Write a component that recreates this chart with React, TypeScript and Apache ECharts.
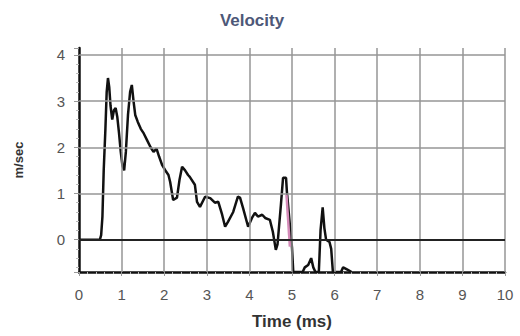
import React, { useEffect, useRef } from "react";
import * as echarts from "echarts";

const TITLE = "Velocity";
const X_NAME = "Time (ms)";
const Y_NAME = "m/sec";

const timeMs: number[] = [
  0, 0.49, 0.52, 0.55, 0.58, 0.62, 0.65, 0.68, 0.71, 0.74, 0.78, 0.82, 0.86, 0.9, 0.94, 0.98,
  1.02, 1.06, 1.1, 1.15, 1.2, 1.24, 1.28, 1.32, 1.38, 1.45, 1.52, 1.6, 1.68, 1.75, 1.82, 1.88,
  1.95, 2.02, 2.1, 2.14, 2.21, 2.3, 2.36, 2.42, 2.49, 2.56, 2.6, 2.72, 2.77, 2.84, 2.96, 3.08,
  3.19, 3.27, 3.36, 3.43, 3.5, 3.62, 3.73, 3.78, 3.85, 3.97, 4.06, 4.13, 4.2, 4.3, 4.37, 4.48,
  4.55, 4.62, 4.66, 4.74, 4.79, 4.86, 4.88, 4.95, 5.0, 5.03, 5.25, 5.3, 5.38, 5.45, 5.5, 5.55,
  5.63, 5.67, 5.72, 5.76, 5.8, 5.88, 5.92, 5.96, 6.15, 6.2, 6.3, 6.4,
];
const velocity: number[] = [
  0, 0, 0.1, 0.5, 1.5, 2.4, 3.2, 3.5, 3.3, 2.9, 2.6, 2.8, 2.85, 2.65, 2.3, 1.9,
  1.6, 1.5, 1.9, 2.7, 3.2, 3.35, 3.0, 2.7, 2.55, 2.4, 2.3, 2.15, 2.0, 1.9, 1.97, 1.8,
  1.62, 1.51, 1.4, 1.25, 0.86, 0.91, 1.3, 1.58, 1.5, 1.4, 1.36, 1.19, 0.82, 0.71, 0.93, 0.9,
  0.8, 0.82, 0.54, 0.28, 0.39, 0.6, 0.93, 0.91, 0.69, 0.28, 0.47, 0.58, 0.5, 0.54, 0.47, 0.43,
  0.17, -0.22, -0.1, 0.76, 1.34, 1.34, 1.04, 0.32, -0.17, -0.7, -0.7, -0.6, -0.55, -0.4, -0.6, -0.7,
  -0.7, 0.2, 0.7, 0.25, 0.0, -0.05, -0.2, -0.7, -0.7, -0.6, -0.65, -0.7,
];
const pinkTime: number[] = [4.87, 4.95];
const pinkVel: number[] = [0.97, -0.15];

const X_MIN = 0;
const X_MAX = 10;
const X_STEP = 1;
const X_GRID: number[] = [1, 2, 3, 4, 5, 6, 7, 8, 9, 10];
const Y_MIN = -0.7;
const Y_MAX = 4.15;
const Y_GRID: number[] = [1, 2, 3, 4];
const ZERO_LINE = 0;

export default function App() {
  const ref = useRef<HTMLDivElement>(null);
  useEffect(() => {
    if (!ref.current) return;
    const chart = echarts.init(ref.current, null, { renderer: "svg" });
    const font = "'Liberation Sans', Arial, sans-serif";
    const gridColor = "rgb(150,150,150)";
    chart.setOption({
      animation: false,
      backgroundColor: "#ffffff",
      textStyle: { fontFamily: font },
      graphic: [
        {
          type: "text",
          x: 252,
          y: 20,
          style: {
            text: TITLE,
            fontFamily: font,
            fontSize: 17,
            fontWeight: "bold",
            fill: "#4d5878",
            textAlign: "center",
            textVerticalAlign: "middle",
          },
        },
      ],
      grid: { left: 79, right: 15, top: 48, bottom: 64, containLabel: false },
      xAxis: {
        type: "value",
        min: X_MIN,
        max: X_MAX,
        interval: X_STEP,
        name: X_NAME,
        nameLocation: "middle",
        nameGap: 41,
        nameTextStyle: { fontSize: 17, fontWeight: "bold", color: "#333", fontFamily: font },
        axisLine: { show: true, onZero: false, lineStyle: { color: "#111", width: 2.5 } },
        axisTick: { show: true, length: 4, lineStyle: { color: "#999", width: 1 } },
        minorTick: { show: true, splitNumber: 5, length: 2, lineStyle: { color: "#bbb" } },
        axisLabel: { fontSize: 15, color: "#555", margin: 15, fontFamily: font },
        splitLine: { show: false },
      },
      yAxis: {
        type: "value",
        min: Y_MIN,
        max: Y_MAX,
        splitNumber: 5,
        name: Y_NAME,
        nameLocation: "middle",
        nameGap: 54,
        nameTextStyle: { fontSize: 13, fontWeight: "bold", color: "#333", fontFamily: font },
        axisLine: { show: true, lineStyle: { color: "#111", width: 2.5 } },
        axisTick: { show: true, length: 5, lineStyle: { color: "#999", width: 1 } },
        minorTick: { show: true, splitNumber: 5, length: 3, lineStyle: { color: "#bbb" } },
        axisLabel: {
          fontSize: 15,
          color: "#555",
          margin: 14,
          fontFamily: font,
          formatter: (v: number) => (Math.abs(v - Math.round(v)) < 1e-6 ? String(Math.round(v)) : ""),
        },
        splitLine: { show: false },
      },
      series: [
        {
          type: "line",
          data: [],
          z: 1,
          markLine: {
            silent: true,
            symbol: "none",
            label: { show: false },
            lineStyle: { color: gridColor, width: 1.5, type: "solid" },
            data: [
              ...Y_GRID.map((y) => ({ yAxis: y })),
              ...X_GRID.map((x) => [
                { coord: [x, Y_MIN] },
                { coord: [x, Y_MAX] },
              ]),
            ],
          },
        },
        {
          type: "line",
          data: [],
          z: 2,
          markLine: {
            silent: true,
            symbol: "none",
            label: { show: false },
            lineStyle: { color: "#222", width: 2, type: "solid" },
            data: [{ yAxis: ZERO_LINE }],
          },
        },
        {
          type: "line",
          data: timeMs.map((t, i) => [t, velocity[i]]),
          showSymbol: false,
          symbol: "none",
          lineStyle: { color: "#111", width: 2.5 },
          z: 3,
        },
        {
          type: "line",
          data: pinkTime.map((t, i) => [t, pinkVel[i]]),
          showSymbol: false,
          symbol: "none",
          lineStyle: { color: "#d48ab8", width: 2.5 },
          z: 4,
        },
      ],
    });
    return () => chart.dispose();
  }, []);
  return (
    <div
      ref={ref}
      style={{ position: "absolute", left: 0, top: 0, width: 520, height: 336, background: "#fff" }}
    />
  );
}
